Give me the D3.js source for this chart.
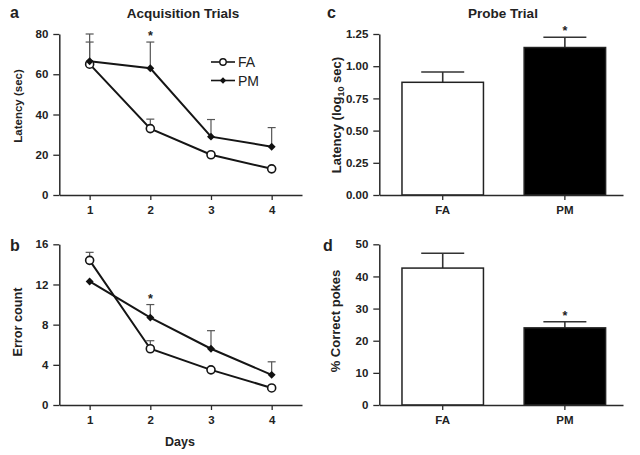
<!DOCTYPE html>
<html>
<head>
<meta charset="utf-8">
<script src="https://cdn.jsdelivr.net/npm/d3@7"></script>
<style>
body{margin:0;background:#fff;}
svg{display:block;font-family:"Liberation Sans",Arial,Helvetica,sans-serif;}
</style>
</head>
<body>
<svg id="chart" width="640" height="455"></svg>
<script>
// ---- data ----
const days = [1, 2, 3, 4];
const groups = ["FA", "PM"];
const latencyFA = [65, 33, 20, 13];
const latencyFAsem = [11, 4.7, null, null];
const latencyPM = [66.5, 63, 29, 24];
const latencyPMsem = [13.5, 13, 8.5, 9.5];
const errorsFA = [14.4, 5.6, 3.5, 1.7];
const errorsFAsem = [0.8, 0.8, null, null];
const errorsPM = [12.3, 8.7, 5.6, 3.0];
const errorsPMsem = [null, 1.3, 1.8, 1.3];
const probeLatency = [0.875, 1.145];
const probeLatencySem = [0.08, 0.08];
const correctPokes = [42.6, 24.0];
const correctPokesSem = [4.6, 1.9];
const latencyTicks = [0, 20, 40, 60, 80];
const errorTicks = [0, 4, 8, 12, 16];
const probeTicks = [0, 0.25, 0.5, 0.75, 1.0, 1.25];
const pokesTicks = [0, 10, 20, 30, 40, 50];

const svg = d3.select("#chart");
const AX = "#2a2a2a";
const ERR = "#555";
const diamond = d3.symbolDiamond2 || d3.symbolDiamond;

function styleAxis(g) {
  g.select(".domain").attr("stroke", AX).attr("stroke-width", 1.5);
  g.selectAll(".tick line").attr("stroke", AX).attr("stroke-width", 1.3);
  g.selectAll(".tick text").attr("fill", "#222").attr("font-size", 11.5).attr("font-weight", "bold")
    .attr("font-family", "Liberation Sans, Arial, sans-serif");
}

function text(x, y, s, opts = {}) {
  const t = svg.append("text").attr("x", x).attr("y", y).text(s)
    .attr("font-weight", "bold").attr("fill", "#222")
    .attr("font-size", opts.size || 12)
    .attr("text-anchor", opts.anchor || "middle");
  if (opts.rotate) t.attr("transform", `rotate(-90,${x},${y})`);
  return t;
}

// ---- line panels ----
function linePanel(cfg) {
  const x = d3.scaleLinear().domain([0.5, 4.5]).range([59.3, 302]);
  const y = d3.scaleLinear().domain(cfg.ydom).range([cfg.y0, cfg.y1]);
  svg.append("g").attr("transform", `translate(59.3,0)`)
    .call(d3.axisLeft(y).tickValues(cfg.ticks).tickSize(6).tickPadding(5).tickSizeOuter(0)
      .tickFormat(d3.format("d")))
    .call(styleAxis);
  svg.append("g").attr("transform", `translate(0,${cfg.y0})`)
    .call(d3.axisBottom(x).tickValues(days).tickSize(5).tickPadding(6).tickSizeOuter(0)
      .tickFormat(d3.format("d")))
    .call(styleAxis);

  const series = [
    {vals: cfg.fa, sem: cfg.faSem, open: true},
    {vals: cfg.pm, sem: cfg.pmSem, open: false}
  ];
  series.forEach(s => {
    s.vals.forEach((v, i) => {
      if (s.sem[i] == null) return;
      const cx = x(days[i]);
      const top = y(v + s.sem[i]);
      svg.append("line").attr("x1", cx).attr("x2", cx).attr("y1", y(v)).attr("y2", top)
        .attr("stroke", ERR).attr("stroke-width", 1.2);
      svg.append("line").attr("x1", cx - 4).attr("x2", cx + 4).attr("y1", top).attr("y2", top)
        .attr("stroke", ERR).attr("stroke-width", 1.2);
    });
  });
  const line = d3.line().x((d, i) => x(days[i])).y(d => y(d));
  series.forEach(s => {
    svg.append("path").attr("d", line(s.vals)).attr("fill", "none")
      .attr("stroke", "#151515").attr("stroke-width", 2);
  });
  series.forEach(s => {
    s.vals.forEach((v, i) => {
      if (s.open) {
        svg.append("circle").attr("cx", x(days[i])).attr("cy", y(v)).attr("r", 4)
          .attr("fill", "#fff").attr("stroke", "#151515").attr("stroke-width", 1.6);
      } else {
        svg.append("path").attr("d", d3.symbol(diamond, 40)())
          .attr("transform", `translate(${x(days[i])},${y(v)})`).attr("fill", "#111");
      }
    });
  });
  const i2 = 1;
  const topPM = y(cfg.pm[i2] + cfg.pmSem[i2]);
  text(x(days[i2]), topPM - 2, "*", {size: 12.5});
  return {x, y};
}

linePanel({ydom: [0, 80], y0: 195, y1: 34, ticks: latencyTicks,
  fa: latencyFA, faSem: latencyFAsem, pm: latencyPM, pmSem: latencyPMsem});
linePanel({ydom: [0, 16], y0: 405, y1: 244.3, ticks: errorTicks,
  fa: errorsFA, faSem: errorsFAsem, pm: errorsPM, pmSem: errorsPMsem});

// legend in panel a
const legendItems = [{name: groups[0], open: true, y: 62}, {name: groups[1], open: false, y: 80.5}];
legendItems.forEach(l => {
  svg.append("line").attr("x1", 211).attr("x2", 235).attr("y1", l.y).attr("y2", l.y)
    .attr("stroke", "#151515").attr("stroke-width", 1.6);
  if (l.open) {
    svg.append("circle").attr("cx", 223).attr("cy", l.y).attr("r", 3.2)
      .attr("fill", "#fff").attr("stroke", "#151515").attr("stroke-width", 1.4);
  } else {
    svg.append("path").attr("d", d3.symbol(diamond, 26)())
      .attr("transform", `translate(223,${l.y})`).attr("fill", "#111");
  }
  svg.append("text").attr("x", 238).attr("y", l.y + 5).text(l.name)
    .attr("font-size", 14).attr("fill", "#222");
});

// ---- bar panels ----
function barPanel(cfg) {
  const x = d3.scaleBand().domain(groups).range([379.3, 623]).paddingInner(0.333).paddingOuter(0.164).align(0.566);
  const y = d3.scaleLinear().domain(cfg.ydom).range([cfg.y0, cfg.y1]);
  svg.append("g").attr("transform", `translate(379.3,0)`)
    .call(d3.axisLeft(y).tickValues(cfg.ticks).tickSize(6).tickPadding(5).tickSizeOuter(0)
      .tickFormat(cfg.fmt))
    .call(styleAxis);
  const xa = svg.append("g").attr("transform", `translate(0,${cfg.y0})`)
    .call(d3.axisBottom(x).tickSize(5).tickPadding(6).tickSizeOuter(0))
    .call(styleAxis);
  const bw = x.bandwidth();
  groups.forEach((g, i) => {
    const v = cfg.vals[i], e = cfg.sem[i];
    const cx = x(g) + bw / 2;
    const top = y(v + e);
    svg.append("line").attr("x1", cx).attr("x2", cx).attr("y1", y(v)).attr("y2", top)
      .attr("stroke", "#333").attr("stroke-width", 1.6);
    svg.append("line").attr("x1", cx - 21.5).attr("x2", cx + 21.5).attr("y1", top).attr("y2", top)
      .attr("stroke", "#333").attr("stroke-width", 1.6);
    svg.append("rect").attr("x", x(g)).attr("y", y(v)).attr("width", bw).attr("height", cfg.y0 - y(v))
      .attr("fill", i === 0 ? "#fff" : "#000").attr("stroke", "#222").attr("stroke-width", 1.5);
  });
  const cxPM = x(groups[1]) + bw / 2;
  text(cxPM, y(cfg.vals[1] + cfg.sem[1]) - 2, "*", {size: 12.5});
  xa.raise();
  return {x, y};
}

barPanel({ydom: [0, 1.25], y0: 195, y1: 34, ticks: probeTicks, fmt: d3.format(".2f"),
  vals: probeLatency, sem: probeLatencySem});
barPanel({ydom: [0, 50], y0: 405, y1: 244.3, ticks: pokesTicks, fmt: d3.format("d"),
  vals: correctPokes, sem: correctPokesSem});

// ---- titles and labels ----
text(183, 18, "Acquisition Trials", {size: 13.5});
text(503, 18, "Probe Trial", {size: 13.5});
text(10, 18, "a", {size: 16, anchor: "start"});
text(10, 251, "b", {size: 16, anchor: "start"});
text(327, 18, "c", {size: 16, anchor: "start"});
text(323, 251, "d", {size: 16, anchor: "start"});
text(180, 446, "Days", {size: 12.5});
text(22, 106, "Latency (sec)", {size: 11.5, rotate: true});
text(22, 322, "Error count", {size: 12.7, rotate: true});
text(339.5, 321, "% Correct pokes", {size: 13, rotate: true});
const lc = text(340.5, 115, "Latency (log", {size: 13, rotate: true});
lc.append("tspan").attr("font-size", 9).attr("dy", 3).text("10");
lc.append("tspan").attr("dy", -3).text(" sec)");
</script>
</body>
</html>
